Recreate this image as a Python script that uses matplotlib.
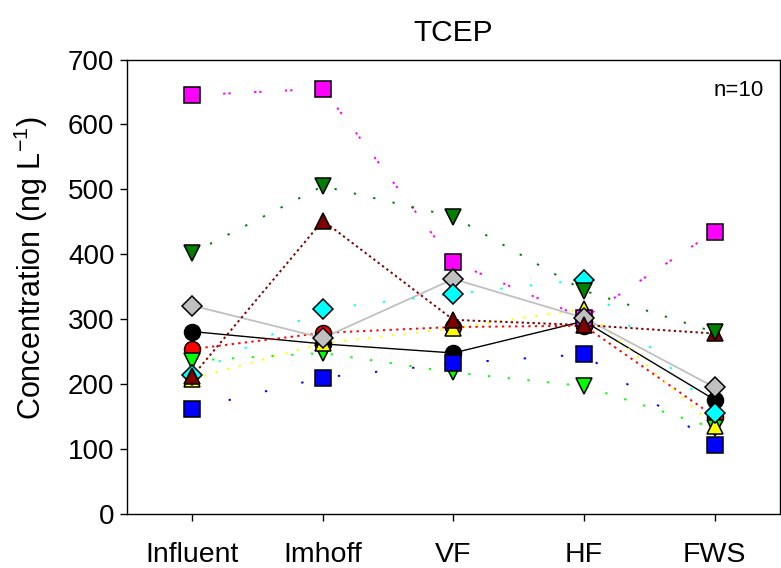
import matplotlib
matplotlib.use("Agg")
import matplotlib.pyplot as plt

plt.rcParams['font.family'] = ['Liberation Sans', 'DejaVu Sans']

# stages on the x axis
stages = ['Influent', 'Imhoff', 'VF', 'HF', 'FWS']

# TCEP concentration (ng/L) per sample
s_black = [281, 262, 248, 297, 176]
s_red = [254, 279, 288, 290, 150]
s_lime = [236, 248, 218, 197, 132]
s_yellow = [208, 263, 286, 316, 135]
s_blue = [162, 210, 232, 246, 107]
s_magenta = [645, 655, 388, 302, 435]
s_gray = [321, 271, 362, 302, 195]
s_cyan = [214, 316, 339, 361, 156]
s_darkred = [212, 452, 299, 291, 278]
s_darkgreen = [402, 505, 458, 344, 280]

# (values, face colour, marker, line colour, line style, line width)
series = [
    (s_black, 'black', 'o', 'black', '-', 1.0),
    (s_red, '#FF0000', 'o', '#FF0000', (0, (1.2, 2.2)), 1.4),
    (s_lime, '#00FF00', 'v', '#00FF00', (0, (1.2, 9)), 1.4),
    (s_yellow, '#FFFF00', '^', '#FFFF00', (0, (1.2, 5)), 1.4),
    (s_blue, '#0000FF', 's', '#0000FF', (0, (1.2, 18)), 1.4),
    (s_magenta, '#FF00FF', 's', '#FF00FF', (0, (1.2, 1.5, 1.2, 12)), 1.4),
    (s_gray, '#C0C0C0', 'D', '#C0C0C0', '-', 1.3),
    (s_cyan, '#00FFFF', 'D', '#00FFFF', (0, (1.2, 14)), 1.4),
    (s_darkred, '#800000', '^', '#800000', (0, (1.2, 1.6)), 1.4),
    (s_darkgreen, '#008000', 'v', '#008000', (0, (1.2, 9)), 1.4),
]

sizes = {'o': 11.5, 's': 11, '^': 12, 'v': 12, 'D': 10.5}

fig = plt.figure(figsize=(7.81, 5.68), dpi=100)
ax = fig.add_axes([0.1626, 0.0951, 0.836, 0.8001])

x = list(range(len(stages)))
for vals, fc, mk, lc, ls, lw in series:
    ax.plot(x, vals, color=lc, linestyle=ls, linewidth=lw, zorder=2)

for i, (vals, fc, mk, lc, ls, lw) in enumerate(series):
    ax.plot(x, vals, linestyle='none', marker=mk, markersize=sizes[mk],
            markerfacecolor=fc, markeredgecolor='black', markeredgewidth=1.1,
            zorder=3 + i)

ax.set_xlim(-0.5, 4.5)
ax.set_ylim(0, 700)
ax.set_xticks(x)
ax.set_xticklabels(stages, fontsize=20.5)
ax.set_yticks(range(0, 701, 100))
ax.tick_params(axis='y', labelsize=20, direction='out', length=5, width=1, pad=4)
ax.tick_params(axis='x', direction='out', length=5, width=1, pad=15)
for sp in ax.spines.values():
    sp.set_linewidth(1)

ax.set_ylabel('Concentration (ng L$^{\\mathregular{-1}}$)', fontsize=22)
ax.yaxis.set_label_coords(-0.118, 0.54)
ax.set_title('TCEP', fontsize=21.5, pad=13)
ax.text(0.975, 0.955, 'n=10', transform=ax.transAxes, ha='right', va='top', fontsize=16)

fig.savefig('out.png', dpi=100)
